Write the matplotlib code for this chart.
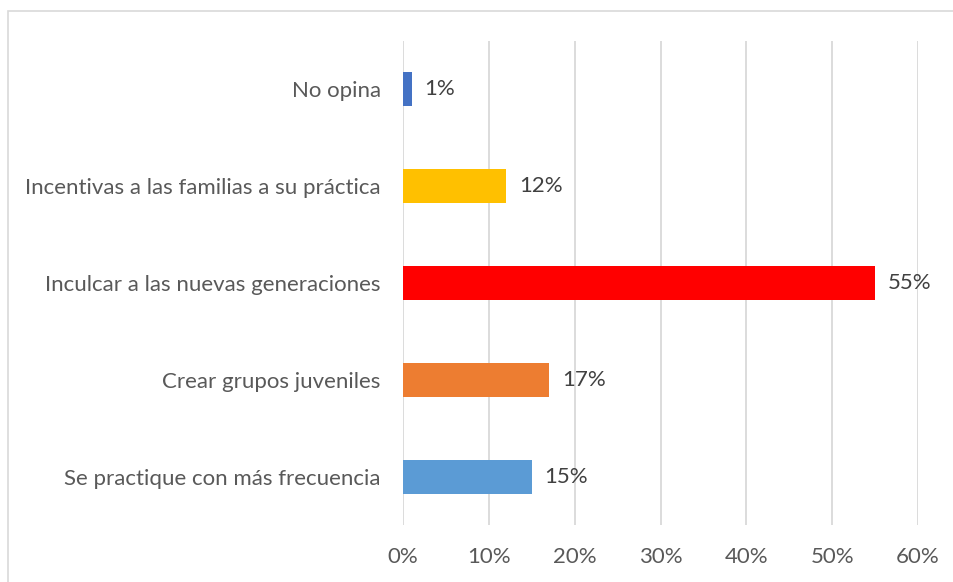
import matplotlib.pyplot as plt
from matplotlib.patches import Rectangle

# datos (de abajo hacia arriba)
categorias = [
    "Se practique con más frecuencia",
    "Crear grupos juveniles",
    "Inculcar a las nuevas generaciones",
    "Incentivas a las familias a su práctica",
    "No opina",
]
valores = [15, 17, 55, 12, 1]
colores = ["#5B9BD5", "#ED7D31", "#FF0000", "#FFC000", "#4472C4"]
ticks_x = [0, 10, 20, 30, 40, 50, 60]
etiquetas_x = [f"{t}%" for t in ticks_x]

texto_color = "#595959"
plt.rcParams["font.family"] = ["Lato", "DejaVu Sans"]

fig = plt.figure(figsize=(9.54, 5.82), dpi=100)
ax = fig.add_axes([403 / 954, 1 - 525 / 582, (918 - 403) / 954, (525 - 41) / 582])

# marco del gráfico
fig.patches.append(Rectangle((8 / 954, -0.01), 1.02, 1 - 11 / 582 + 0.01,
                             transform=fig.transFigure, fill=False,
                             edgecolor="#D9D9D9", linewidth=1.2))

pos = range(len(categorias))
ax.barh(pos, valores, height=0.35, color=colores, zorder=3)
for y, v in zip(pos, valores):
    ax.text(v + 1.5, y, f"{v}%", va="center", ha="left", fontsize=16, color="#404040")

ax.set_xlim(0, 60)
ax.set_ylim(-0.5, len(categorias) - 0.5)
ax.set_xticks(ticks_x)
ax.set_xticklabels(etiquetas_x)
ax.set_yticks(list(pos))
ax.set_yticklabels(categorias)
ax.tick_params(axis="both", length=0, labelsize=16, labelcolor=texto_color)
ax.tick_params(axis="x", pad=16)
ax.tick_params(axis="y", pad=16)
ax.grid(axis="x", color="#D9D9D9", linewidth=1.3, zorder=0)
for s in ax.spines.values():
    s.set_visible(False)

fig.savefig("out.png", dpi=100)
